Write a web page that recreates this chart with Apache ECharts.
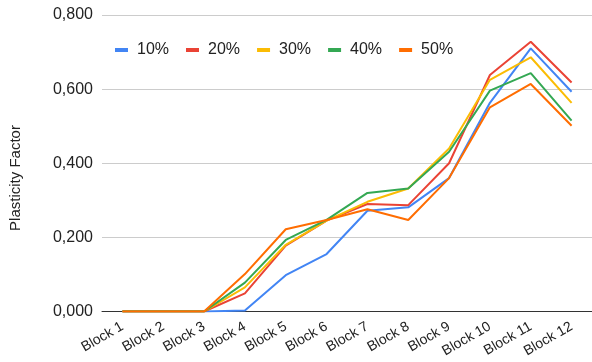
<!DOCTYPE html>
<html>
<head>
<meta charset="utf-8">
<script src="https://cdn.jsdelivr.net/npm/echarts@6/dist/echarts.min.js"></script>
<style>
  html, body { margin: 0; padding: 0; background: #fff; }
  #chart { width: 592px; height: 362px; }
</style>
</head>
<body>
<div id="chart"></div>
<script>
const categories = ['Block 1', 'Block 2', 'Block 3', 'Block 4', 'Block 5', 'Block 6',
  'Block 7', 'Block 8', 'Block 9', 'Block 10', 'Block 11', 'Block 12'];
const seriesNames = ['10%', '20%', '30%', '40%', '50%'];
const p10 = [0, 0, 0, 0.003, 0.098, 0.155, 0.272, 0.281, 0.360, 0.563, 0.710, 0.593];
const p20 = [0, 0, 0, 0.049, 0.178, 0.245, 0.290, 0.287, 0.400, 0.638, 0.728, 0.618];
const p30 = [0, 0, 0, 0.065, 0.180, 0.245, 0.296, 0.332, 0.440, 0.625, 0.686, 0.563];
const p40 = [0, 0, 0, 0.078, 0.193, 0.247, 0.320, 0.332, 0.431, 0.596, 0.643, 0.515];
const p50 = [0, 0, 0, 0.101, 0.222, 0.247, 0.276, 0.247, 0.360, 0.551, 0.614, 0.501];
const colors = ['#4285f4', '#ea4335', '#fbbc04', '#34a853', '#ff6d01'];
const yTitle = 'Plasticity Factor';

const chart = echarts.init(document.getElementById('chart'));

const fmt = v => v.toFixed(3).replace('.', ',');

chart.setOption({
  animation: false,
  color: colors,
  textStyle: { fontFamily: 'Arial, "Liberation Sans", sans-serif' },
  legend: {
    top: 37,
    left: 110,
    itemWidth: 13,
    itemHeight: 4,
    itemGap: 17,
    icon: 'rect',
    textStyle: { fontSize: 16, color: '#222', padding: [0, 0, 0, 4] },
    data: seriesNames
  },
  graphic: [{
    type: 'text',
    x: 8,
    y: 178,
    rotation: Math.PI / 2,
    style: {
      text: yTitle,
      font: '15px Arial, "Liberation Sans", sans-serif',
      fill: '#222',
      align: 'center',
      verticalAlign: 'top'
    }
  }],
  grid: {
    left: 102,
    top: 15,
    width: 492,
    height: 296.5
  },
  xAxis: {
    type: 'category',
    data: categories,
    boundaryGap: true,
    axisLine: { lineStyle: { color: '#333', width: 1 } },
    axisTick: { show: false },
    axisLabel: {
      rotate: 30,
      fontSize: 14,
      color: '#222',
      margin: 14,
      interval: 0
    }
  },
  yAxis: {
    type: 'value',
    min: 0,
    max: 0.8,
    interval: 0.2,
    axisLine: { show: false },
    axisTick: { show: false },
    axisLabel: {
      fontSize: 16,
      color: '#222',
      margin: 9,
      formatter: fmt
    },
    splitLine: { lineStyle: { color: '#ccc', width: 1 } }
  },
  series: [p10, p20, p30, p40, p50].map((d, i) => ({
    name: seriesNames[i],
    type: 'line',
    data: d,
    symbol: 'none',
    lineStyle: { width: 2 }
  }))
});
</script>
</body>
</html>
